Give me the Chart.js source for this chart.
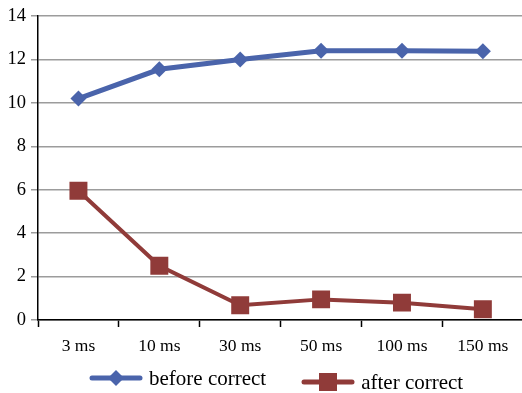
<!DOCTYPE html>
<html>
<head>
<meta charset="utf-8">
<script src="https://cdn.jsdelivr.net/npm/chart.js@4/dist/chart.umd.min.js"></script>
<style>
  html, body { margin: 0; padding: 0; background: #fff; overflow: hidden; }
  #wrap { position: relative; width: 522px; height: 393px; overflow: hidden; }
  #latencyChart { display: block; }
  #legend {
    position: absolute; left: 89px; top: 366px;
    display: flex; align-items: flex-start;
    font-family: 'Liberation Serif', 'Times New Roman', serif;
    font-size: 21px; color: #000; line-height: 24px;
  }
  .item { display: flex; align-items: center; }
  .item canvas { margin-right: 6px; }
  .item + .item { margin-left: 35px; margin-top: 4px; }
</style>
</head>
<body>
<div id="wrap">
  <!-- plot runs a little past the right edge, the wrapper crops it -->
  <canvas id="latencyChart" width="536" height="393"></canvas>
  <div id="legend"></div>
</div>
<script>
// Timing windows on the x axis
const categories = ["3 ms", "10 ms", "30 ms", "50 ms", "100 ms", "150 ms"];
// Series values
const beforeCorrect = [10.2, 11.55, 12.0, 12.4, 12.4, 12.38];
const afterCorrect = [5.95, 2.5, 0.68, 0.95, 0.8, 0.5];
// Y axis range
const yMin = 0;
const yMax = 14;
const yStep = 2;

const BLUE = "#4a64ab";
const RED = "#903b39";
const FONT = "'Liberation Serif', 'Times New Roman', serif";

// little line + marker swatch for the legend
function makeSymbol(color, marker) {
  const c = document.createElement("canvas");
  c.width = 54;
  c.height = 22;
  const g = c.getContext("2d");
  g.strokeStyle = color;
  g.fillStyle = color;
  g.lineWidth = 5;
  g.lineCap = "round";
  g.beginPath();
  g.moveTo(3, 11);
  g.lineTo(51, 11);
  g.stroke();
  g.beginPath();
  if (marker === "diamond") {
    g.moveTo(27, 3); g.lineTo(35, 11); g.lineTo(27, 19); g.lineTo(19, 11);
  } else {
    g.rect(18, 2, 18, 18);
  }
  g.closePath();
  g.fill();
  return c;
}

const chart = new Chart(document.getElementById("latencyChart"), {
  type: "line",
  data: {
    labels: categories,
    datasets: [
      {
        label: "before correct",
        data: beforeCorrect,
        borderColor: BLUE,
        backgroundColor: BLUE,
        borderWidth: 5,
        pointStyle: "rectRot",
        pointRadius: 8,
        pointBorderWidth: 0,
        tension: 0,
        marker: "diamond",
      },
      {
        label: "after correct",
        data: afterCorrect,
        borderColor: RED,
        backgroundColor: RED,
        borderWidth: 4,
        pointStyle: "rect",
        pointRadius: 12.7,
        pointBorderWidth: 0,
        tension: 0,
        marker: "square",
      },
    ],
  },
  options: {
    responsive: false,
    animation: false,
    layout: { padding: { top: 8, right: 0, left: 0, bottom: 29 } },
    plugins: {
      tooltip: { enabled: false },
      legend: { display: false },
    },
    scales: {
      x: {
        offset: true,
        grid: {
          offset: true,
          drawOnChartArea: false,
          tickLength: 7,
          tickColor: "#000",
          tickWidth: 1.5,
        },
        border: { color: "#000", width: 1.5 },
        ticks: {
          color: "#000",
          padding: 9,
          maxRotation: 0,
          font: { family: FONT, size: 17.5 },
        },
        afterFit: (s) => { s.height = 44; },
      },
      y: {
        min: yMin,
        max: yMax,
        grid: {
          color: "#9c9c9c",
          lineWidth: 1.5,
          tickLength: 7,
          tickColor: "#9c9c9c",
        },
        border: { color: "#000", width: 1.5 },
        ticks: {
          stepSize: yStep,
          color: "#000",
          padding: 5,
          font: { family: FONT, size: 18.5 },
        },
        afterFit: (s) => { s.width = 38; },
      },
    },
  },
});

// html legend under the chart
const legendEl = document.getElementById("legend");
chart.data.datasets.forEach((ds) => {
  const item = document.createElement("div");
  item.className = "item";
  item.appendChild(makeSymbol(ds.borderColor, ds.marker));
  const txt = document.createElement("span");
  txt.textContent = ds.label;
  item.appendChild(txt);
  legendEl.appendChild(item);
});
</script>
</body>
</html>
